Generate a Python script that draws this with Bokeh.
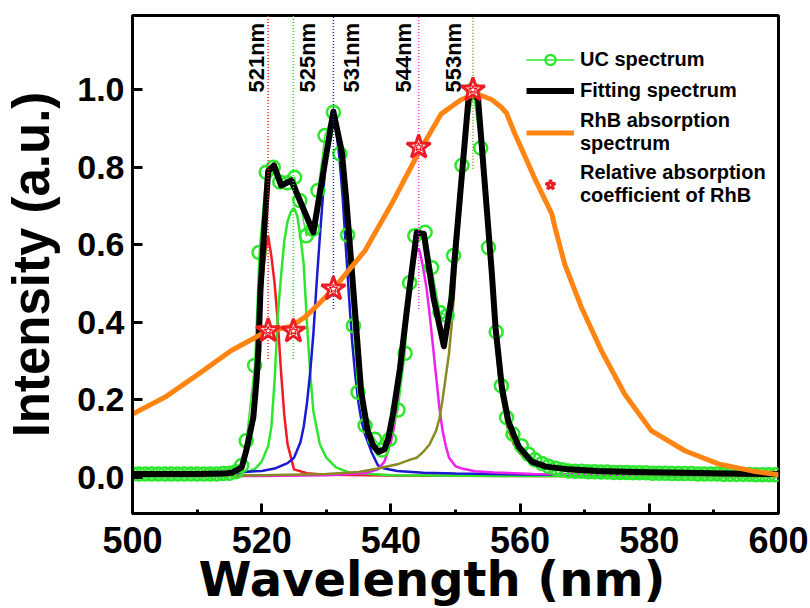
from math import pi
from bokeh.plotting import figure
from bokeh.models import Range1d, FixedTicker, PrintfTickFormatter, Legend, LegendItem, Title
from bokeh.core.properties import value
from bokeh.embed import file_html
from bokeh.resources import INLINE

FONT = "Liberation Sans"
WIDE_FONT = "DejaVu Sans"

# ---------------- data ----------------
x_ticks = [500, 520, 540, 560, 580, 600]
x_minor = [510, 530, 550, 570, 590]
y_ticks = [0.0, 0.2, 0.4, 0.6, 0.8, 1.0]

# UC spectrum (measured points, open green circles)
uc_wl = [500, 501, 502, 503, 504, 505, 506, 507, 508, 509, 510, 511, 512, 513, 514, 515, 516,
         516.9, 517.6, 518.9, 519.6, 520.7, 521.8, 522.8, 524.0, 525.1, 525.9, 526.9, 527.9,
         528.7, 529.8, 531.1, 532.1, 533.3, 534.2, 534.9, 536.0, 537.5, 538.6, 539.8, 541.1,
         542.2, 542.9, 543.7, 545.3, 546.3, 547.6, 548.7, 549.7, 551.0, 552.7, 553.9, 555.1,
         556.3, 557.1, 557.9, 558.9, 560.2, 561.3, 562.3, 563.4, 564.4, 565.5, 566.5,
         567.5, 568.5, 569.5, 570.5, 571.5, 572.5, 573.5, 574.5, 575.5, 576.5, 577.5, 578.5,
         579.5, 580.5, 581.5, 582.5, 583.5, 584.5, 585.5, 586.5, 587.5, 588.5, 589.5, 590.5,
         591.5, 592.5, 593.5, 594.5, 595.5, 596.5, 597.5, 598.5, 599.5]
uc_int = [0.008, 0.008, 0.008, 0.008, 0.008, 0.008, 0.008, 0.008, 0.008, 0.008, 0.008, 0.008,
          0.008, 0.008, 0.009, 0.010, 0.014,
          0.030, 0.094, 0.288, 0.580, 0.787, 0.800, 0.762, 0.760, 0.774, 0.714, 0.623, 0.640,
          0.740, 0.882, 0.942, 0.835, 0.625, 0.391, 0.219, 0.133, 0.098, 0.070, 0.098, 0.173,
          0.320, 0.502, 0.623, 0.632, 0.541, 0.425, 0.417, 0.572, 0.805, 1.000, 0.850, 0.593,
          0.375, 0.236, 0.154, 0.111, 0.081, 0.059, 0.045, 0.035, 0.028, 0.023, 0.019,
          0.016, 0.015, 0.015, 0.014, 0.014, 0.013, 0.013, 0.012, 0.012, 0.012, 0.011, 0.011,
          0.011, 0.010, 0.010, 0.010, 0.009, 0.009, 0.009, 0.009, 0.008, 0.008, 0.008, 0.008,
          0.007, 0.007, 0.007, 0.007, 0.007, 0.006, 0.006, 0.006, 0.006]

# Fitting spectrum (black)
fit_wl = [500, 505, 510, 514, 515.5, 516.9, 517.6, 518.7, 519.2, 519.5, 519.8, 520.4, 521.0,
          521.9, 523.0, 524.6, 528.0, 531.1, 532.4, 533.1, 534.2, 534.8, 535.4, 536.4, 537.3,
          538.1, 539.0, 539.6, 540.4, 541.4, 542.7, 544.0, 545.1, 546.6, 548.2, 549.4, 549.7,
          552.0, 552.5, 553.0, 553.5, 555.6, 556.2, 557.2, 558.2, 559.8, 561.8, 564.0, 567.5,
          572.0, 577.8, 585.0, 592.0, 600.0]
fit_int = [0.008, 0.008, 0.008, 0.009, 0.012, 0.025, 0.068, 0.154, 0.25, 0.33, 0.48, 0.64, 0.79,
           0.805, 0.753, 0.766, 0.632, 0.944, 0.84, 0.715, 0.48, 0.35, 0.22, 0.12, 0.08,
           0.065, 0.072, 0.10, 0.17, 0.28, 0.463, 0.632, 0.628, 0.463, 0.338, 0.463, 0.532,
           0.975, 0.99, 0.99, 0.975, 0.532, 0.385, 0.229, 0.143, 0.078, 0.04, 0.027, 0.02,
           0.016, 0.013, 0.011, 0.009, 0.008]

# RhB absorption spectrum (orange)
abs_wl = [500, 505.0, 510.2, 515.3, 520.5, 524.6, 526.7, 528.7, 531.1, 536.0, 540.1, 544.2,
          547.8, 550.9, 553.3, 555.6, 557.1, 557.9, 559.2, 560.3, 561.5, 562.3, 563.6, 564.9,
          565.4, 566.9, 569.5, 572.6, 576.2, 580.3, 585.5, 590.7, 595.9, 600]
abs_int = [0.163, 0.206, 0.266, 0.327, 0.374, 0.390, 0.413, 0.445, 0.486, 0.585, 0.705, 0.835,
           0.938, 0.975, 0.990, 0.975, 0.955, 0.940, 0.886, 0.845, 0.800, 0.770, 0.725, 0.680,
           0.645, 0.550, 0.438, 0.326, 0.214, 0.120, 0.068, 0.034, 0.016, 0.006]

# Fitted component peaks
p521_wl = [500, 510, 515, 517, 518, 518.5, 519, 519.5, 520, 520.5, 521, 521.5, 522, 522.5,
           523, 523.5, 524, 525, 527, 530, 540, 560, 600]
p521_int = [0.002, 0.003, 0.005, 0.02, 0.085, 0.16, 0.27, 0.40, 0.50, 0.57, 0.623, 0.57, 0.50,
            0.40, 0.27, 0.16, 0.085, 0.02, 0.01, 0.006, 0.004, 0.003, 0.002]

p525_wl = [500, 510, 515, 518, 519, 520, 520.5, 521, 521.5, 522, 522.5, 523, 523.5, 524,
           524.5, 525, 525.5, 526, 526.5, 527, 527.5, 528, 529, 530, 531.5, 533.5, 540, 560, 600]
p525_int = [0.002, 0.003, 0.006, 0.015, 0.022, 0.04, 0.06, 0.08, 0.13, 0.25, 0.42, 0.52, 0.61,
            0.66, 0.685, 0.695, 0.675, 0.62, 0.55, 0.40, 0.27, 0.17, 0.085, 0.05, 0.025, 0.012,
            0.005, 0.003, 0.002]

p531_wl = [500, 510, 516, 520, 522, 524, 525, 526, 526.5, 527, 527.5, 528, 528.5, 529, 529.5,
           530, 530.5, 531, 531.5, 532, 532.5, 533, 533.5, 534, 534.5, 535, 535.5, 536, 537,
           538, 539, 541, 545, 550, 560, 600]
p531_int = [0.006, 0.009, 0.012, 0.016, 0.022, 0.036, 0.05, 0.09, 0.13, 0.19, 0.27, 0.37, 0.50,
            0.62, 0.73, 0.83, 0.90, 0.93, 0.90, 0.83, 0.73, 0.60, 0.47, 0.35, 0.26, 0.19, 0.14,
            0.11, 0.065, 0.03, 0.022, 0.016, 0.011, 0.009, 0.007, 0.005]

p544_wl = [500, 520, 530, 536, 538, 539, 540, 540.5, 541, 541.5, 542, 542.5, 543, 543.5, 544,
           544.3, 544.5, 545, 545.5, 546, 546.5, 547, 547.5, 548, 548.5, 549, 550, 551, 553,
           556, 562, 600]
p544_int = [0.002, 0.003, 0.005, 0.01, 0.02, 0.04, 0.09, 0.13, 0.19, 0.26, 0.34, 0.42, 0.49,
            0.55, 0.585, 0.59, 0.58, 0.54, 0.49, 0.42, 0.34, 0.26, 0.18, 0.12, 0.08, 0.05,
            0.028, 0.022, 0.015, 0.012, 0.008, 0.004]

p553_wl = [500, 520, 530, 535, 538, 541, 543, 544, 545, 546, 547, 547.5, 548, 548.5, 549, 549.5,
           550, 550.5, 551, 551.5, 552, 552.5, 552.8, 553.2, 553.5, 554, 554.5, 555, 555.5,
           556, 556.5, 557, 558, 559, 560, 562, 565, 570, 580, 600]
p553_int = [0.002, 0.005, 0.008, 0.013, 0.022, 0.033, 0.045, 0.05, 0.065, 0.085, 0.12, 0.15,
            0.20, 0.26, 0.32, 0.41, 0.53, 0.64, 0.75, 0.85, 0.94, 0.975, 0.98, 0.975, 0.95,
            0.86, 0.75, 0.63, 0.51, 0.40, 0.30, 0.22, 0.13, 0.085, 0.06, 0.035, 0.02, 0.012,
            0.007, 0.004]

# Relative absorption coefficient of RhB at the peak wavelengths (stars)
peak_wl = [521.0, 524.9, 531.1, 544.3, 552.7]
peak_abs = [0.378, 0.377, 0.486, 0.852, 1.0]
peak_labels = ["521nm", "525nm", "531nm", "544nm", "553nm"]
marker_bottom = [0.305, 0.305, 0.434, 0.434, 0.796]

# ---------------- styling ----------------
GREEN = "#2ee62e"
RED = "#ee1c24"
BLUE = "#1a1ad0"
MAGENTA = "#ee22ee"
OLIVE = "#8a8a22"
ORANGE = "#ff8412"
peak_colors = [RED, "#22dd22", BLUE, MAGENTA, OLIVE]

Y0, Y1 = -0.094, 1.192

p = figure(width=810, height=608, x_range=Range1d(500, 600), y_range=Range1d(Y0, Y1),
           output_backend="svg", toolbar_location=None,
           min_border_left=131, min_border_right=32, min_border_top=15, min_border_bottom=95)
p.grid.visible = False
p.outline_line_color = "black"
p.outline_line_width = 3
p.outline_line_alpha = 1.0
p.background_fill_color = "white"
p.border_fill_color = "white"

p.xaxis.ticker = FixedTicker(ticks=x_ticks, minor_ticks=x_minor)
p.yaxis.ticker = FixedTicker(ticks=y_ticks, minor_ticks=[])
p.yaxis.formatter = PrintfTickFormatter(format="%.1f")
for ax in (p.xaxis[0], p.yaxis[0]):
    ax.axis_line_width = 3
    ax.axis_line_color = "black"
    ax.major_tick_in = 10
    ax.major_tick_out = 0
    ax.minor_tick_in = 4
    ax.minor_tick_out = 0
    ax.major_tick_line_width = 3
    ax.minor_tick_line_width = 3
    ax.major_label_text_font = FONT
    ax.major_label_text_font_style = "bold"
    ax.major_label_text_color = "black"
p.xaxis.major_label_text_font_size = "36px"
p.yaxis.major_label_text_font_size = "34px"
p.xaxis.major_label_standoff = 13
p.yaxis.major_label_standoff = 8
p.yaxis.axis_label = "Intensity (a.u.)"
p.yaxis.axis_label_text_font = FONT
p.yaxis.axis_label_text_font_style = "bold"
p.yaxis.axis_label_text_font_size = "51px"
p.yaxis.axis_label_text_color = "black"
p.yaxis.axis_label_standoff = 14

# x axis title, set slightly left of centre as in the original
xtitle = Title(text="Wavelength (nm)", align="left", offset=66, standoff=-13,
               text_font=WIDE_FONT, text_font_style="bold", text_font_size="48px",
               text_color="black")
p.add_layout(xtitle, "below")

# component peaks
p.line(p521_wl, p521_int, line_color=RED, line_width=2.5)
p.line(p525_wl, p525_int, line_color=GREEN, line_width=2.5)
p.line(p531_wl, p531_int, line_color=BLUE, line_width=2.5)
p.line(p544_wl, p544_int, line_color=MAGENTA, line_width=2.5)
p.line(p553_wl, p553_int, line_color=OLIVE, line_width=2.5)

# UC spectrum
uc_line = p.line(uc_wl, uc_int, line_color=GREEN, line_width=1.5)
uc_pts = p.scatter(uc_wl, uc_int, marker="circle", size=13, fill_color=None,
                   line_color=GREEN, line_width=2.5)

# fitting spectrum
fit_line = p.line(fit_wl, fit_int, line_color="black", line_width=6, line_join="round")

# RhB absorption
abs_line = p.line(abs_wl, abs_int, line_color=ORANGE, line_width=5, line_join="round")

# dotted marker lines
p.segment(x0=peak_wl, y0=marker_bottom, x1=peak_wl, y1=[Y1] * len(peak_wl),
          line_color=peak_colors, line_dash="1 2", line_width=1.5)

# peak labels
LABEL_Y = 0.993
left_idx = [0, 3, 4]
right_idx = [1, 2]
p.text(x=[peak_wl[i] for i in left_idx], y=[LABEL_Y] * 3,
       text=[peak_labels[i] for i in left_idx], angle=pi / 2,
       x_offset=[-12, -15, -19], text_align="left", text_baseline="middle",
       text_font=value(FONT), text_font_style="bold", text_font_size="22px", text_color="black")
p.text(x=[peak_wl[i] for i in right_idx], y=[LABEL_Y] * 2,
       text=[peak_labels[i] for i in right_idx], angle=pi / 2,
       x_offset=[14, 18], text_align="left", text_baseline="middle",
       text_font=value(FONT), text_font_style="bold", text_font_size="22px", text_color="black")

# stars
star_outer = p.scatter(peak_wl, peak_abs, marker="star", size=25, fill_color="white",
                       line_color=RED, line_width=3)
star_inner = p.scatter(peak_wl, peak_abs, marker="star", size=9, fill_color="white",
                       line_color=RED, line_width=1.2)

legend = Legend(items=[
    LegendItem(label="UC spectrum", renderers=[uc_line, uc_pts]),
    LegendItem(label="Fitting spectrum", renderers=[fit_line]),
    LegendItem(label="RhB absorption\nspectrum", renderers=[abs_line]),
    LegendItem(label="Relative absorption\ncoefficient of RhB", renderers=[star_outer]),
], location=(394, 306))
legend.label_text_font = FONT
legend.label_text_font_style = "bold"
legend.label_text_font_size = "20px"
legend.label_text_line_height = 1.7
legend.label_text_color = "black"
legend.glyph_width = 48
legend.glyph_height = 25
legend.label_height = 25
legend.label_standoff = 6
legend.spacing = 6
legend.padding = 0
legend.margin = 0
legend.border_line_color = None
legend.background_fill_alpha = 0
p.add_layout(legend)

open("out.html", "w").write(file_html(p, INLINE))
